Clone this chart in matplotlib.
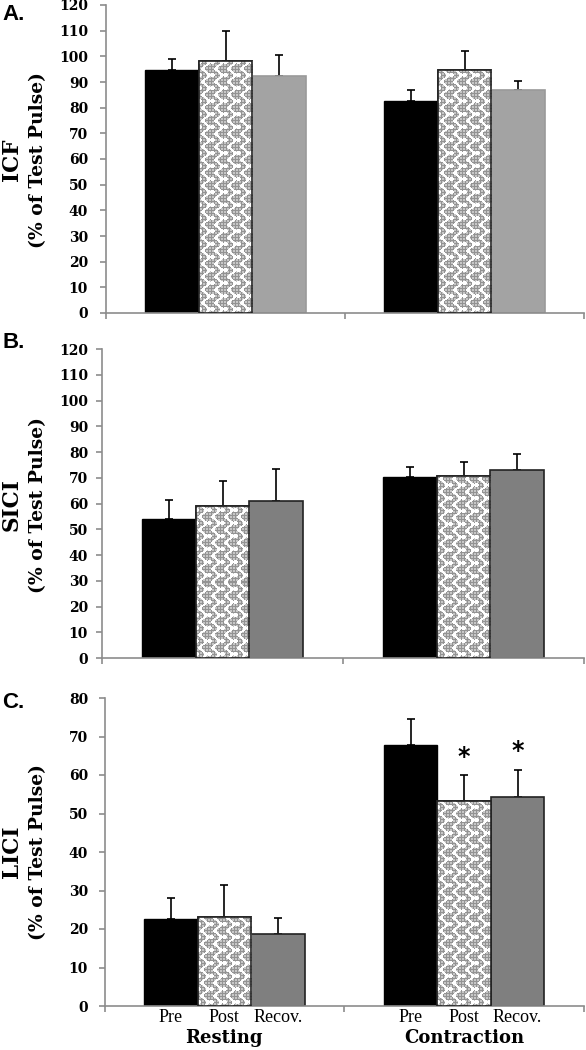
import matplotlib
matplotlib.use("Agg")
import matplotlib.pyplot as plt
import numpy as np

conditions = ["Resting", "Contraction"]
timepoints = ["Pre", "Post", "Recov."]

icf_mean = {"Pre": [94.5, 82.5], "Post": [98.0, 94.5], "Recov.": [92.5, 87.0]}
icf_err = {"Pre": [4.5, 4.5], "Post": [12.0, 7.5], "Recov.": [8.0, 3.5]}

sici_mean = {"Pre": [54.0, 70.2], "Post": [59.2, 70.6], "Recov.": [60.8, 72.9]}
sici_err = {"Pre": [7.4, 3.8], "Post": [9.5, 5.6], "Recov.": [12.5, 6.3]}

lici_mean = {"Pre": [22.5, 67.7], "Post": [23.0, 53.2], "Recov.": [18.7, 54.4]}
lici_err = {"Pre": [5.5, 6.8], "Post": [8.5, 6.7], "Recov.": [4.1, 6.8]}

lici_star_post = [None, 64.7]
lici_star_recov = [None, 66.2]

fig = plt.figure(figsize=(5.86, 10.5), dpi=100)
W_PX, H_PX = 586, 1050

def add_ax(left_px, top_px, bottom_px, right_px=584):
    return fig.add_axes([left_px / W_PX, 1 - bottom_px / H_PX,
                         (right_px - left_px) / W_PX, (bottom_px - top_px) / H_PX])

spine_col = '#8c8c8c'
serif = ['DejaVu Serif']


def texture(h_px, w_px):
    """Decorative wavy/dotted fill pattern (style only)."""
    h_px = max(int(round(h_px)), 2)
    w_px = max(int(round(w_px)), 2)
    yy, xx = np.mgrid[0:h_px, 0:w_px].astype(float)
    yy = yy[::-1]
    per = 13.0
    img = np.full((h_px, w_px), 0.58)
    grid = ((xx % 3) < 1) | ((yy % 3) < 1)
    img[~grid] = 0.78
    xs = (xx % per) - per / 2 - 3.0 * np.sin(2 * np.pi * yy / per)
    img[np.abs(xs) < 1.7] = 1.0
    dx = ((xx + per / 2) % per) - per / 2
    dy = ((yy + per / 4) % per) - per / 2
    img[(dx ** 2 + dy ** 2) < 5.0] = 1.0
    return img


def draw_panel(ax, means, errs, ymax, ystep, recov_color, recov_edge, left_px, top_px, bottom_px):
    width_px = 584 - left_px
    height_px = bottom_px - top_px
    bw = 53.5 * 2 / width_px
    centers = np.array([0.5, 1.5])
    offsets = {"Pre": -bw, "Post": 0.0, "Recov.": bw}
    for tp in timepoints:
        x = centers + offsets[tp]
        m = np.array(means[tp])
        e = np.array(errs[tp])
        if tp == "Pre":
            ax.bar(x, m, bw, color='black', edgecolor='black', linewidth=1, zorder=2)
        elif tp == "Post":
            bars = ax.bar(x, m, bw, color='#aaaaaa', edgecolor='#222222', linewidth=1.2, zorder=2)
            for b in bars:
                x0 = b.get_x()
                hgt = b.get_height()
                img = texture(hgt / ymax * height_px, 53.5)
                im = ax.imshow(img, cmap='gray', vmin=0, vmax=1, extent=(x0, x0 + bw, 0, hgt),
                               aspect='auto', interpolation='nearest', zorder=3)
                im.set_clip_path(b)
            ax.bar(x, m, bw, facecolor='none', edgecolor='#222222', linewidth=1.2, zorder=4)
        else:
            ax.bar(x, m, bw, color=recov_color, edgecolor=recov_edge, linewidth=1.2, zorder=2)
        ax.errorbar(x, m, yerr=[np.zeros_like(e), e], fmt='none', ecolor='black',
                    elinewidth=1.2, capsize=3, capthick=1.2, zorder=1)
    ax.set_xlim(0, 2)
    ax.set_ylim(0, ymax)
    ax.set_yticks(np.arange(0, ymax + 1, ystep))
    ax.set_xticks([0, 1, 2])
    ax.set_xticklabels([])
    for s in ['top', 'right']:
        ax.spines[s].set_visible(False)
    for s in ['left', 'bottom']:
        ax.spines[s].set_color(spine_col)
        ax.spines[s].set_linewidth(1.2)
    pad_px = left_px - 6 - 88
    ax.tick_params(axis='both', direction='out', length=4.3, width=1.2, color=spine_col)
    ax.tick_params(axis='y', labelsize=10, pad=pad_px * 0.72)
    for lab in ax.get_yticklabels():
        lab.set_fontfamily(serif)
        lab.set_fontweight('bold')
    return centers, offsets

def ylabels(name, center_y_px):
    fig.text(12 / W_PX, 1 - center_y_px / H_PX, name, rotation=90, ha='center', va='center',
             fontsize=15.5, fontweight='bold', family=serif)
    fig.text(38 / W_PX, 1 - center_y_px / H_PX, "(% of Test Pulse)", rotation=90,
             ha='center', va='center', fontsize=13.5, fontweight='bold', family=serif)

# Panel A
axA = add_ax(106, 5, 313)
draw_panel(axA, icf_mean, icf_err, 120, 10, '#a3a3a3', '#9a9a9a', 106, 5, 313)
ylabels("ICF", 160)
fig.text(2 / W_PX, 1 - 14 / H_PX, "A.", fontsize=16, fontweight='bold',
         family=['Liberation Sans'], va='center', ha='left')

# Panel B
axB = add_ax(102, 349, 658)
draw_panel(axB, sici_mean, sici_err, 120, 10, '#7f7f7f', '#222222', 102, 349, 658)
ylabels("SICI", 505)
fig.text(2 / W_PX, 1 - 343 / H_PX, "B.", fontsize=16, fontweight='bold',
         family=['Liberation Sans'], va='center', ha='left')

# Panel C
axC = add_ax(104.5, 698, 1006)
centers, offsets = draw_panel(axC, lici_mean, lici_err, 80, 10, '#7f7f7f', '#222222',
                              104.5, 698, 1006)
ylabels("LICI", 852)
fig.text(2 / W_PX, 1 - 702 / H_PX, "C.", fontsize=16, fontweight='bold',
         family=['Liberation Sans'], va='center', ha='left')

for i, c in enumerate(centers):
    if lici_star_post[i] is not None:
        axC.text(c + offsets["Post"], lici_star_post[i], "*", ha='center', va='center',
                 fontsize=17, fontweight='bold', family=['DejaVu Sans'])
    if lici_star_recov[i] is not None:
        axC.text(c + offsets["Recov."], lici_star_recov[i], "*", ha='center', va='center',
                 fontsize=17, fontweight='bold', family=['DejaVu Sans'])

# category labels
trans = axC.get_xaxis_transform()
for i, c in enumerate(centers):
    for tp in timepoints:
        axC.text(c + offsets[tp], -0.037, tp, transform=trans, ha='center', va='center',
                 fontsize=13, family=['Liberation Serif'])
    axC.text(c, -0.103, conditions[i], transform=trans, ha='center', va='center',
             fontsize=13, fontweight='bold', family=serif)

fig.savefig("out.png", dpi=100, facecolor='white')
